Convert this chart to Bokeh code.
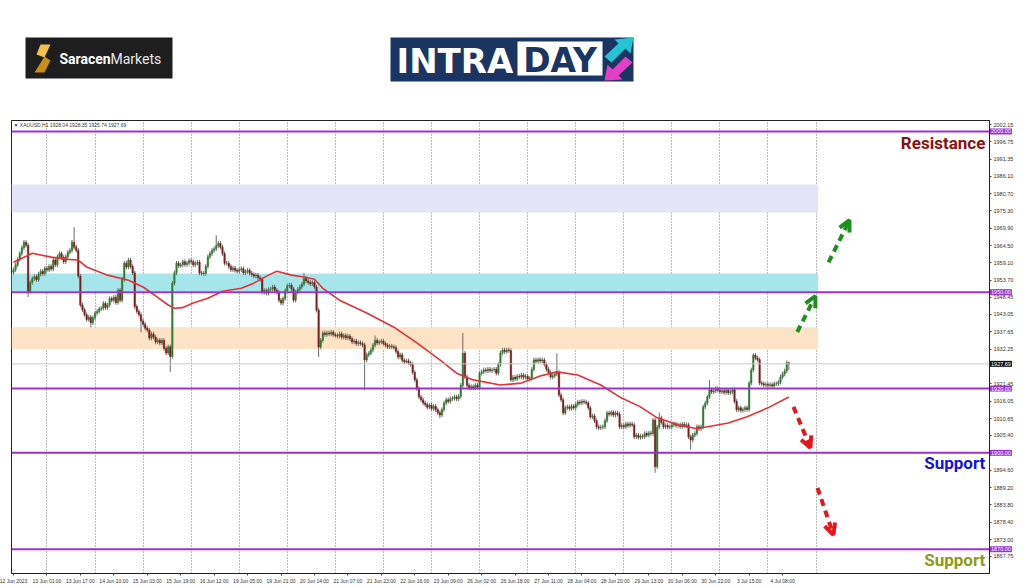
from bokeh.plotting import figure
from bokeh.models import (Range1d, FixedTicker, Label, Arrow, OpenHead, Span,
                          PrintfTickFormatter, ColumnDataSource)
from bokeh.layouts import column
from bokeh.core.properties import value
from bokeh.embed import file_html
from bokeh.resources import INLINE

# ---------------- data ----------------
closes = [
    1957.0, 1958.5, 1960.2, 1962.0, 1963.8, 1965.5, 1964.6, 1950.2, 1953.0, 1954.2,
    1954.8, 1953.9, 1955.6, 1956.5, 1955.8, 1957.4, 1956.9, 1958.0, 1957.2, 1960.0,
    1958.5, 1961.0, 1962.0, 1960.8, 1959.5, 1961.0, 1962.4, 1963.0, 1965.5, 1964.0,
    1963.0, 1955.0, 1946.0, 1944.5, 1943.0, 1941.5, 1942.2, 1940.5, 1942.0, 1943.5,
    1944.0, 1944.8, 1945.0, 1946.5, 1945.2, 1946.0, 1948.0, 1947.5, 1948.4, 1946.8,
    1950.6, 1947.5, 1954.0, 1959.0, 1957.8, 1960.0, 1958.0, 1956.0, 1945.5, 1944.0,
    1943.0, 1941.0, 1940.0, 1938.8, 1938.2, 1935.7, 1937.0, 1936.0, 1934.5, 1935.0,
    1934.2, 1935.0, 1932.5, 1931.1, 1933.0, 1930.0, 1952.8, 1956.0, 1959.0, 1958.2,
    1958.5, 1959.5, 1958.6, 1959.0, 1959.8, 1959.5, 1958.5, 1959.0, 1959.3, 1956.0,
    1955.9, 1955.8, 1958.0, 1961.0, 1962.0, 1963.0, 1963.5, 1964.5, 1965.2, 1964.0,
    1962.0, 1959.0, 1959.0, 1958.0, 1957.0, 1957.5, 1956.8, 1956.5, 1957.0, 1957.3,
    1956.0, 1956.4, 1956.8, 1955.9, 1955.5, 1955.0, 1955.3, 1954.5, 1954.0, 1950.0,
    1950.5, 1949.7, 1950.8, 1951.0, 1951.6, 1950.6, 1950.0, 1947.5, 1946.6, 1948.0,
    1950.5, 1952.0, 1952.2, 1951.0, 1947.5, 1950.0, 1950.8, 1951.6, 1952.5, 1954.3,
    1953.5, 1953.0, 1952.6, 1953.0, 1951.6, 1944.4, 1932.9, 1935.0, 1937.3, 1936.8,
    1937.3, 1937.0, 1937.5, 1936.8, 1936.5, 1936.3, 1937.0, 1936.0, 1936.5, 1935.8,
    1936.3, 1935.5, 1934.5, 1934.8, 1934.0, 1934.3, 1934.0, 1933.6, 1928.9, 1930.5,
    1931.0, 1932.0, 1933.5, 1935.0, 1934.2, 1934.5, 1934.8, 1934.0, 1933.5, 1933.0,
    1933.2, 1933.0, 1932.8, 1931.5, 1929.8, 1930.5, 1928.8, 1928.3, 1928.6, 1928.0,
    1927.5, 1925.0, 1922.7, 1920.0, 1917.4, 1916.5, 1915.5, 1915.0, 1914.2, 1914.8,
    1913.8, 1914.5, 1913.4, 1912.5, 1911.8, 1913.5, 1915.5, 1916.5, 1916.0, 1916.8,
    1917.0, 1917.4, 1916.8, 1917.6, 1921.0, 1931.0, 1923.6, 1921.0, 1920.2, 1920.6,
    1920.2, 1921.0, 1920.4, 1924.8, 1925.2, 1925.8, 1925.5, 1926.0, 1925.6, 1925.8,
    1926.0, 1924.8, 1927.5, 1931.1, 1932.0, 1931.5, 1932.0, 1931.8, 1922.7, 1923.5,
    1923.0, 1923.8, 1923.6, 1924.2, 1923.5, 1923.8, 1923.0, 1923.2, 1926.0, 1928.9,
    1928.5, 1929.0, 1928.6, 1928.9, 1927.5, 1926.0, 1925.0, 1923.6, 1924.0, 1924.5,
    1925.0, 1918.0, 1916.5, 1912.4, 1914.0, 1914.3, 1913.8, 1914.5, 1914.0, 1915.0,
    1915.8, 1915.5, 1916.0, 1915.8, 1915.5, 1914.0, 1911.2, 1911.5, 1910.0, 1908.1,
    1907.8, 1908.0, 1908.1, 1910.0, 1912.4, 1912.0, 1912.6, 1911.8, 1912.4, 1912.0,
    1908.1, 1908.5, 1908.1, 1909.0, 1908.5, 1909.0, 1908.7, 1905.0, 1905.5, 1904.8,
    1905.2, 1905.0, 1906.0, 1905.5, 1906.2, 1906.0, 1910.2, 1895.7, 1908.0, 1910.9,
    1909.5, 1908.1, 1908.5, 1908.0, 1908.1, 1908.7, 1909.0, 1908.5, 1908.7, 1908.2,
    1908.9, 1908.5, 1908.7, 1905.0, 1904.0, 1905.5, 1906.0, 1908.1, 1907.5, 1908.1,
    1914.3, 1915.5, 1917.4, 1919.6, 1919.0, 1919.3, 1920.0, 1919.5, 1919.0, 1919.3,
    1918.8, 1919.5, 1918.7, 1919.0, 1919.6, 1916.0, 1913.4, 1914.0, 1913.2, 1913.5,
    1914.0, 1913.5, 1921.7, 1925.8, 1930.4, 1929.5, 1929.0, 1921.7, 1921.5, 1921.1,
    1921.3, 1921.0, 1921.2, 1920.8, 1921.5, 1921.5, 1922.0, 1923.6, 1924.5, 1925.5,
    1928.04, 1927.69,
]
first_open = 1956.2
# notable wick extremes
wick_highs = {29: 1970.2, 97: 1967.7, 139: 1956.0, 173: 1936.5, 215: 1937.3,
              260: 1931.0, 309: 1912.5, 333: 1922.7, 354: 1931.0, 371: 1928.35}
wick_lows = {7: 1948.5, 37: 1939.0, 61: 1937.5, 75: 1925.2, 146: 1929.8,
             168: 1919.6, 204: 1910.8, 307: 1893.8, 324: 1901.0, 371: 1925.74}
small_wick = 0.7

ma_bars = [0, 9, 18, 26, 31, 35, 45, 55, 62, 69, 74, 77, 81, 86, 93, 100, 109, 115,
           122, 126, 133, 139, 144, 148, 156, 169, 182, 193, 204, 212, 220, 233, 243,
           252, 260, 270, 281, 290, 300, 308, 318, 327, 342, 351, 361, 371]
ma_values = [1959.3, 1962.1, 1960.9, 1960.2, 1960.0, 1957.8, 1955.3, 1953.7, 1951.6,
             1948.4, 1946.0, 1945.0, 1945.2, 1946.6, 1948.1, 1950.3, 1951.2, 1952.8,
             1955.3, 1956.5, 1955.3, 1954.7, 1954.0, 1951.2, 1947.5, 1943.5, 1939.1,
             1934.2, 1928.9, 1924.8, 1922.7, 1921.1, 1921.7, 1923.9, 1925.2, 1924.2,
             1921.1, 1917.4, 1914.3, 1910.9, 1908.7, 1907.5, 1909.3, 1911.2, 1914.0,
             1917.4]

time_label_bars = [0, 16, 32, 48, 64, 80, 96, 112, 128, 144, 160, 176, 192, 208,
                   224, 240, 256, 272, 288, 304, 320, 336, 352, 368]
time_labels = ["12 Jun 2023", "13 Jun 01:00", "13 Jun 17:00", "14 Jun 10:00",
               "15 Jun 03:00", "15 Jun 19:00", "16 Jun 12:00", "19 Jun 05:00",
               "19 Jun 21:00", "20 Jun 14:00", "21 Jun 07:00", "21 Jun 23:00",
               "22 Jun 16:00", "23 Jun 09:00", "26 Jun 02:00", "26 Jun 18:00",
               "27 Jun 11:00", "28 Jun 04:00", "28 Jun 20:00", "29 Jun 13:00",
               "30 Jun 06:00", "30 Jun 22:00", "3 Jul 15:00", "4 Jul 08:00"]
grid_bars = [16, 39, 62, 85, 108, 131, 154, 177, 200, 223, 246, 269, 292, 315,
             338, 361, 384]

price_ticks = [2002.15, 1996.75, 1991.35, 1986.10, 1980.70, 1975.30, 1969.90,
               1964.50, 1959.10, 1953.70, 1948.45, 1943.05, 1937.65, 1932.25,
               1921.45, 1916.05, 1910.65, 1905.40, 1894.60, 1889.20, 1883.80,
               1878.40, 1873.00, 1867.75, 1862.35]
level_prices = [2000.00, 1950.00, 1920.00, 1900.00, 1870.00]
bid_price = 1927.69
header_text = "\u25bc XAUUSD,H1  1928.04 1928.35 1925.74 1927.69"

zone_top = [1983.5, 1955.8, 1939.1]
zone_bottom = [1974.8, 1950.3, 1932.3]
zone_colors = ["#e4e4f7", "#a6e6ea", "#fde3c6"]
zone_end_bar = 385

arrow_x0 = [375.0, 390.0, 373.2, 384.7]
arrow_y0 = [1937.6, 1959.3, 1914.3, 1889.1]
arrow_x1 = [383.7, 400.0, 381.3, 392.3]
arrow_y1 = [1948.8, 1972.4, 1901.6, 1874.5]
arrow_colors = ["#1f8f1f", "#1f8f1f", "#e8151b", "#e8151b"]

notes = ["Resistance", "Support", "Support"]
note_prices = [1996.3, 1896.9, 1866.5]
note_colors = ["#8a1212", "#1414d6", "#8f9a1c"]

# ---------------- derived candle table ----------------
opens = [first_open] + closes[:-1]
opens[-1] = 1928.04
highs, lows = [], []
for i, (o, c) in enumerate(zip(opens, closes)):
    highs.append(wick_highs.get(i, max(o, c) + small_wick))
    lows.append(wick_lows.get(i, min(o, c) - small_wick))
bars = list(range(len(closes)))
up = [c >= o for o, c in zip(opens, closes)]


def pick(seq, flag):
    return [v for v, u in zip(seq, up) if u == flag]


src_up = ColumnDataSource(dict(x=pick(bars, True), o=pick(opens, True), c=pick(closes, True),
                               h=pick(highs, True), l=pick(lows, True)))
src_dn = ColumnDataSource(dict(x=pick(bars, False), o=pick(opens, False), c=pick(closes, False),
                               h=pick(highs, False), l=pick(lows, False)))

# ---------------- geometry ----------------
EXTRA = 160                 # hidden strip on the left (pushed off-page by a negative margin)
FIG_W = 1024 + EXTRA
LEFT_B = 11 + EXTRA
RIGHT_B = 35

# ---------------- header (logos) ----------------
HDR_H = 112
hdr = figure(width=FIG_W, height=HDR_H, x_range=Range1d(11, 989), y_range=Range1d(HDR_H, 0),
             toolbar_location=None, output_backend="svg",
             min_border_left=LEFT_B, min_border_right=RIGHT_B, min_border_top=0,
             min_border_bottom=0, x_axis_location=None, y_axis_location=None)
hdr.grid.visible = False
hdr.outline_line_color = None
hdr.background_fill_color = "white"
hdr.border_fill_color = "white"

hdr.quad(left=[25], right=[172], top=[37], bottom=[78], fill_color="#1e1e1e", line_color=None)
hdr.patches(xs=[[40, 50, 44, 36], [44, 50, 44, 34]],
            ys=[[44, 44, 57, 54], [56, 60, 72, 72]],
            fill_color=["#f0c24a", "#c98d1a"], line_color=None)
hdr.text(x=[59], y=[58], text=["Saracen"], text_font=value("Roboto"), text_font_style="bold",
         text_font_size="14px", text_color="white", text_baseline="middle")
hdr.text(x=[110], y=[58], text=["Markets"], text_font=value("Roboto"),
         text_font_size="14px", text_color="#e8e8e8", text_baseline="middle")

hdr.quad(left=[390], right=[633], top=[37], bottom=[81], fill_color="#1b3563", line_color=None)
hdr.quad(left=[517], right=[602], top=[41], bottom=[75], fill_color="white", line_color=None)
hdr.text(x=[396], y=[60], text=["INTRA"], text_font=value("DejaVu Sans"), text_font_style="bold",
         text_font_size="34px", text_color="white", text_baseline="middle")
hdr.text(x=[559.5], y=[60], text=["DAY"], text_font=value("DejaVu Sans"), text_font_style="bold",
         text_font_size="33px", text_color="#1b3563", text_baseline="middle", text_align="center")
hdr.patches(xs=[[633, 630, 625, 611, 604, 618, 614], [604, 607, 612, 625, 632, 618, 622]],
            ys=[[37, 53, 48, 62, 56, 43, 39], [80, 64, 69, 56, 62, 75, 79]],
            fill_color=["#25c4d4", "#e23fc6"], line_color=None)

# ---------------- chart ----------------
Y_TOP = 2003.42
Y_BOTTOM = 1862.45
p = figure(width=FIG_W, height=474, x_range=Range1d(-0.96, 467.0),
           y_range=Range1d(Y_BOTTOM, Y_TOP), toolbar_location=None, output_backend="svg",
           y_axis_location="right", min_border_left=LEFT_B, min_border_right=RIGHT_B,
           min_border_top=8, min_border_bottom=12)
p.outline_line_color = "#222222"
p.outline_line_width = 1
p.background_fill_color = "white"
p.border_fill_color = "white"

p.ygrid.visible = False
p.xgrid.ticker = FixedTicker(ticks=grid_bars)
p.xgrid.grid_line_color = "#777777"
p.xgrid.grid_line_dash = "1 2"
p.xgrid.grid_line_width = 1

p.xaxis.ticker = FixedTicker(ticks=time_label_bars)
p.xaxis.major_label_overrides = {b: t for b, t in zip(time_label_bars, time_labels)}
p.xaxis.major_label_text_font_size = "5px"
p.xaxis.major_label_text_font = "Liberation Sans"
p.xaxis.major_label_text_color = "#333333"
p.xaxis.major_label_text_align = "left"
p.xaxis.major_label_standoff = 2
p.xaxis.major_tick_out = 2
p.xaxis.major_tick_in = 0
p.xaxis.minor_tick_line_color = None
p.xaxis.axis_line_color = "#222222"
p.xaxis.major_tick_line_color = "#444444"

p.yaxis.ticker = FixedTicker(ticks=price_ticks)
p.yaxis.formatter = PrintfTickFormatter(format="%.2f")
p.yaxis.major_label_text_font_size = "5.5px"
p.yaxis.major_label_text_font = "Liberation Sans"
p.yaxis.major_label_text_color = "#333333"
p.yaxis.major_label_standoff = 2
p.yaxis.major_tick_out = 2
p.yaxis.major_tick_in = 0
p.yaxis.minor_tick_line_color = None
p.yaxis.axis_line_color = "#222222"
p.yaxis.major_tick_line_color = "#444444"

# zones
p.quad(left=[-0.96] * len(zone_top), right=[zone_end_bar] * len(zone_top),
       top=zone_top, bottom=zone_bottom, fill_color=zone_colors, line_color=None)

# bid line and levels
p.add_layout(Span(location=bid_price, dimension="width", line_color="#c8c8c8", line_width=1))
for lv in level_prices:
    p.add_layout(Span(location=lv, dimension="width", line_color="#9a33d0", line_width=2))

# candles
for src, col in ((src_up, "#2f7d32"), (src_dn, "#7e1d1d")):
    p.segment(x0="x", y0="h", x1="x", y1="l", source=src, line_color="#6a6a6a", line_width=1)
    p.vbar(x="x", top="o", bottom="c", width=0.7, source=src, fill_color=col, line_color=col,
           line_width=0.5)

# moving average
p.line(ma_bars, ma_values, line_color="#e2323a", line_width=1.6)

# arrows
for x0, y0, x1, y1, col in zip(arrow_x0, arrow_y0, arrow_x1, arrow_y1, arrow_colors):
    p.add_layout(Arrow(x_start=x0, y_start=y0, x_end=x1, y_end=y1, line_color=col,
                       line_width=4, line_dash="7 5",
                       end=OpenHead(size=11, line_color=col, line_width=4)))

# notes
for t, y, col in zip(notes, note_prices, note_colors):
    p.add_layout(Label(x=465, y=y, text=t, text_align="right", text_baseline="middle",
                       text_font="Roboto", text_font_style="bold",
                       text_font_size="17px", text_color=col))

# header text
p.add_layout(Label(x=0, y=2002.1, text=header_text, text_baseline="middle",
                   text_font="Liberation Sans", text_font_size="5px",
                   text_color="#333333"))

# price tags on the scale: kept in a side panel (hidden left strip) so they are
# not clipped to the plot frame; they are still positioned by the data scales.
tag_values = level_prices + [bid_price]
tag_colors = ["#9a33d0"] * len(level_prices) + ["#111111"]
for lv, col in zip(tag_values, tag_colors):
    p.add_layout(Label(x=467.25, y=lv, text=f"{lv:.2f}", text_baseline="middle",
                       text_font="Liberation Sans", text_font_size="5.5px",
                       text_color="white", background_fill_color=col, padding=1),
                 "left")

layout = column(hdr, p, spacing=0, margin=(0, 0, 0, -EXTRA))
open("out.html", "w").write(file_html(layout, INLINE))
